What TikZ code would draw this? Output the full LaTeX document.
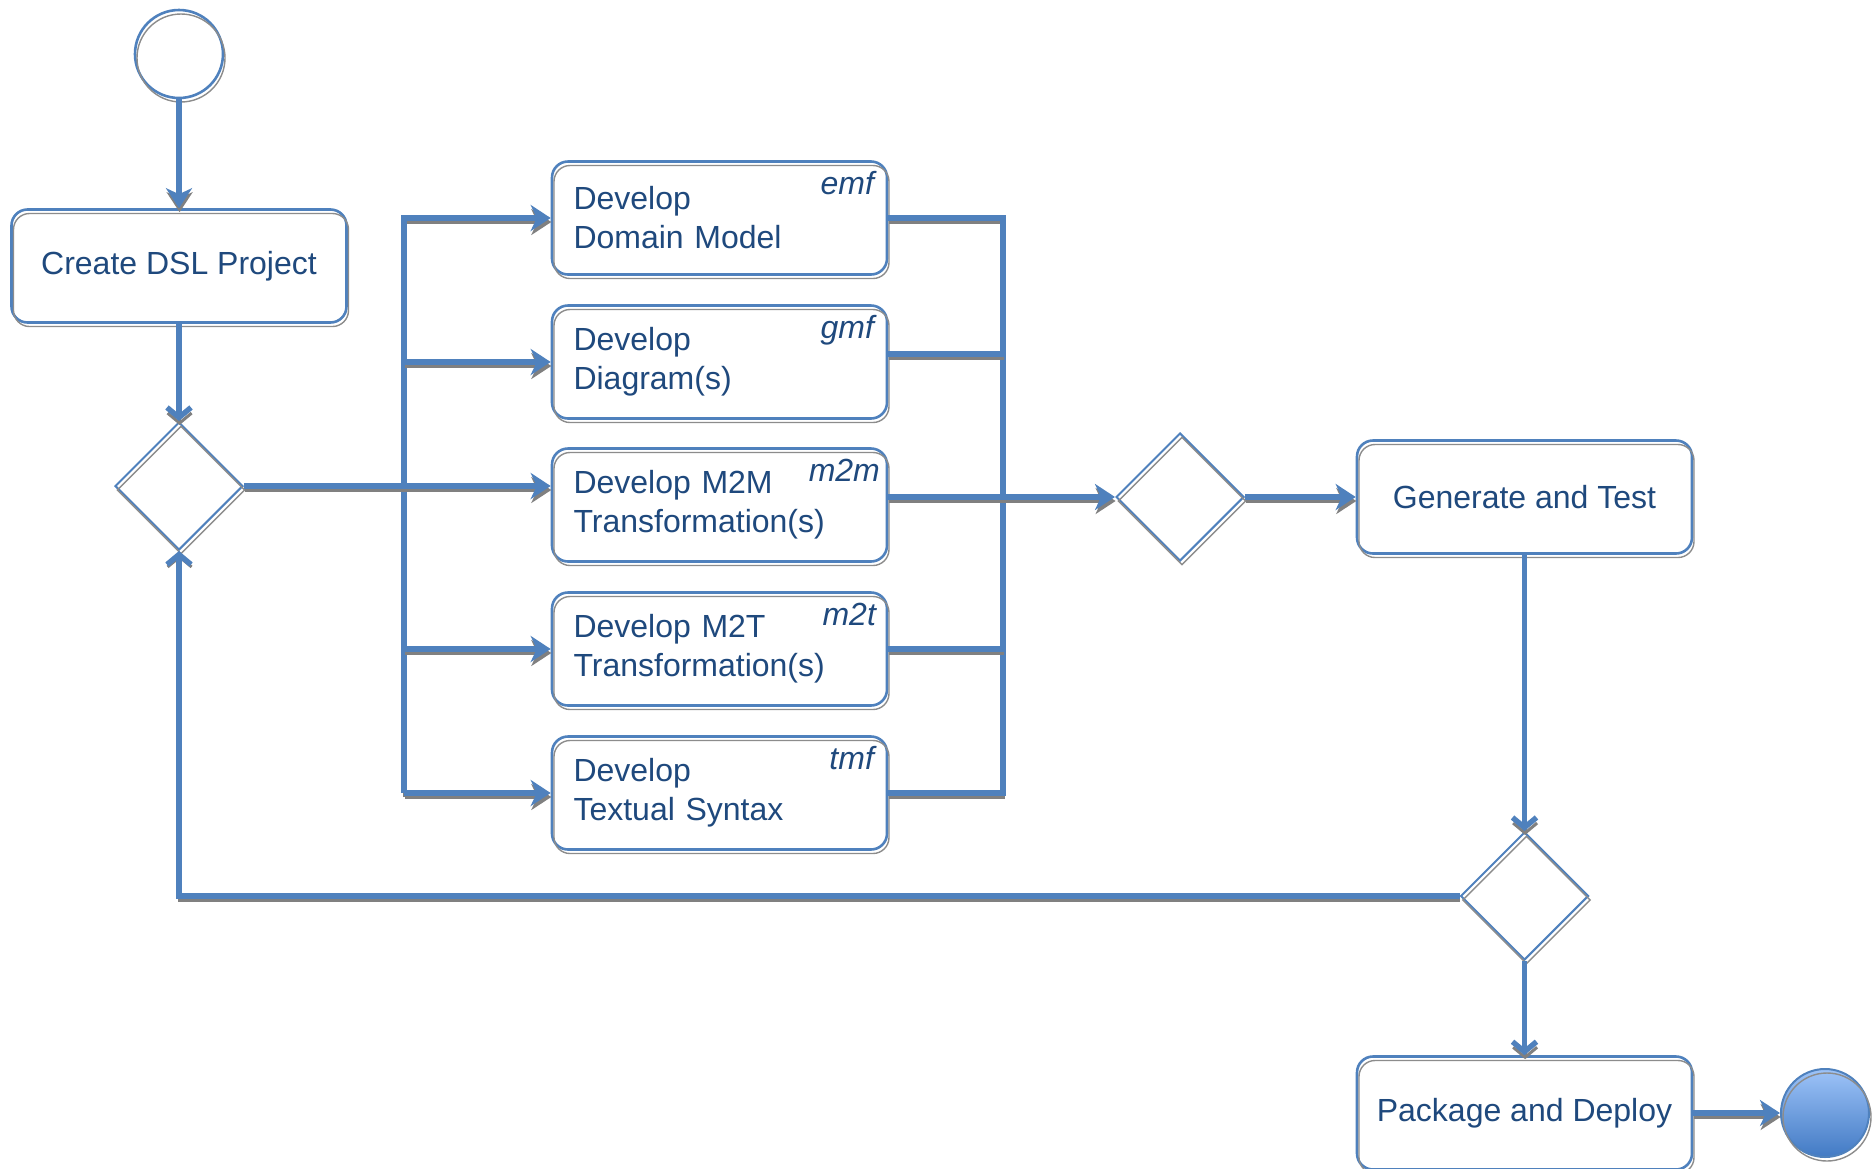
\documentclass[tikz,border=0pt]{standalone}
\usepackage{fontspec}
\setmainfont{Liberation Sans}
\usetikzlibrary{shapes.geometric,arrows.meta}
\definecolor{lineblue}{RGB}{79,129,189}
\definecolor{textblue}{RGB}{31,73,125}

\begin{document}
\begin{tikzpicture}[x=0.5pt,y=-0.5pt,
    font=\fontsize{16}{19.5}\selectfont, text=textblue,
    nshadow/.style={postaction={draw=black!45, line width=0.7pt, fill=none, transform canvas={shift={(1pt,-2pt)}}}},
    act/.style={draw=lineblue, line width=1.3pt, fill=white, rounded corners=8pt, minimum width=167.5pt, minimum height=56.5pt, nshadow},
    dev/.style={act, text width=146pt, inner xsep=10.75pt, align=left},
    tag/.style={anchor=base east, font=\fontsize{16}{19.5}\selectfont\itshape, inner sep=0pt},
    dec/.style={diamond, draw=lineblue, line width=1pt, fill=white, minimum width=64pt, minimum height=64pt, inner sep=0pt, nshadow},
    flow/.style={draw=lineblue, line width=2.7pt, preaction={draw=black!50, line width=1.5pt, transform canvas={shift={(0.3pt,-2pt)}}}},
    tipfill/.tip={Stealth[length=10pt,width=13pt,inset=3pt]},
    tipopen/.tip={Straight Barb[length=5pt,width=12pt]}]
    \useasboundingbox (0,0) rectangle (1875,1168);
    \node[circle, draw=lineblue, line width=1.3pt, fill=white, minimum size=44pt, inner sep=0pt, nshadow] (start) at (179,54) {};
    \node[act] (create) at (179,266) {Create DSL Project};
    \node[dec] (split) at (179,486) {};
    \node[dev] (dm) at (719.5,218) {Develop\\Domain Model};
    \node[dev] (dd) at (719.5,362) {Develop\\Diagram(s)};
    \node[dev] (dmm) at (719.5,505) {Develop M2M\\Transformation(s)};
    \node[dev] (dmt) at (719.5,649) {Develop M2T\\Transformation(s)};
    \node[dev] (dts) at (719.5,793) {Develop\\Textual Syntax};
    \node[tag] (emf) at ([shift={(-7pt,-17pt)}]dm.north east) {emf};
    \node[tag] (gmf) at ([shift={(-7pt,-17pt)}]dd.north east) {gmf};
    \node[tag] (m2m) at ([shift={(-4pt,-17pt)}]dmm.north east) {m2m};
    \node[tag] (m2t) at ([shift={(-6pt,-17pt)}]dmt.north east) {m2t};
    \node[tag] (tmf) at ([shift={(-7pt,-17pt)}]dts.north east) {tmf};
    \node[dec] (merge) at (1180,497) {};
    \node[act] (gt) at (1524.5,497) {Generate and Test};
    \node[dec] (check) at (1524.5,896) {};
    \node[act] (pkg) at (1524.5,1113) {Package and Deploy};
    \node[circle, draw=lineblue, line width=1pt, top color={rgb,255:red,157;green,195;blue,248}, bottom color={rgb,255:red,66;green,122;blue,196}, minimum size=44pt, inner sep=0pt, nshadow] (end) at (1825,1113) {};
    \coordinate (fbot) at (404,793);
    \coordinate (jtop) at (1003,218);
    \coordinate (jbot) at (1003,793);

    \draw[flow,-tipfill] (start) -- (create);
    \draw[flow,-tipopen] (create) -- (split);
    \draw[flow,-tipfill] (fbot) |- (dm.west);
    \draw[flow,-tipfill] (dd.west -| fbot) -- (dd.west);
    \draw[flow,-tipfill] (split.east) -- (split.east -| dmm.west);
    \draw[flow,-tipfill] (dmt.west -| fbot) -- (dmt.west);
    \draw[flow,-tipfill] (fbot) -- (dts.west);
    \draw[flow] (dm.east) -- (jtop) -- (jbot) -- (dts.east);
    \draw[flow] ([yshift=4pt]dd.east) -- ([yshift=4pt]dd.east -| jtop);
    \draw[flow,-tipfill] (dmm.east |- merge) -- (merge.west);
    \draw[flow] (dmt.east) -- (dmt.east -| jtop);
    \draw[flow,-tipfill] (merge) -- (gt);
    \draw[flow,-tipopen] (gt) -- (check);
    \draw[flow,-tipopen] (check.west) -| (split.south);
    \draw[flow,-tipopen] (check) -- (pkg);
    \draw[flow,-tipfill] (pkg) -- (end);
  \end{tikzpicture}
\end{document}
